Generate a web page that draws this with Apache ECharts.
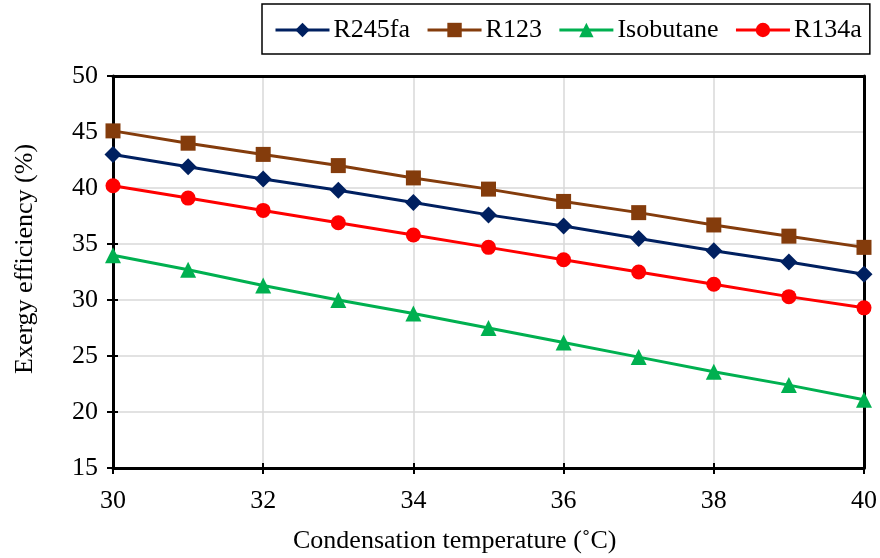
<!DOCTYPE html>
<html>
<head>
<meta charset="utf-8">
<script src="https://cdn.jsdelivr.net/npm/echarts@6/dist/echarts.min.js"></script>
<style>
  html, body { margin: 0; padding: 0; background: #fff; }
  #chart { width: 880px; height: 558px; }
</style>
</head>
<body>
<div id="chart"></div>
<script>
// Condensation temperature (°C)
const temperatures = [30, 31, 32, 33, 34, 35, 36, 37, 38, 39, 40];

// Exergy efficiency (%) for each working fluid
const r245fa    = [43.0, 41.9, 40.8, 39.8, 38.7, 37.6, 36.6, 35.5, 34.4, 33.4, 32.3];
const r123      = [45.1, 44.0, 43.0, 42.0, 40.9, 39.9, 38.8, 37.8, 36.7, 35.7, 34.7];
const isobutane = [34.0, 32.7, 31.3, 30.0, 28.8, 27.5, 26.2, 24.9, 23.6, 22.4, 21.1];
const r134a     = [40.2, 39.1, 38.0, 36.9, 35.8, 34.7, 33.6, 32.5, 31.4, 30.3, 29.3];

const FONT = '"Liberation Serif", "Times New Roman", serif';
const FS = 26;

const chart = echarts.init(document.getElementById('chart'));

function pairs(values) {
  return temperatures.map((t, i) => [t, values[i]]);
}

function lineSeries(name, values, color, symbol, size) {
  return {
    name: name,
    type: 'line',
    xAxisIndex: 0, yAxisIndex: 0,
    data: pairs(values),
    symbol: symbol,
    symbolSize: size,
    showSymbol: true,
    lineStyle: { color: color, width: 3 },
    itemStyle: { color: color },
    z: 5
  };
}

const blackLine = { show: true, lineStyle: { color: '#000', width: 3 } };
const noSplit = { show: false };
const innerTick = { show: true, inside: true, length: 5, lineStyle: { color: '#000', width: 2 } };

chart.setOption({
  animation: false,
  backgroundColor: '#fff',
  grid: { left: 113, right: 16, top: 76, bottom: 90 },
  legend: {
    left: 262, top: 4,
    padding: [13, 8, 11, 12],
    borderColor: '#000', borderWidth: 1.5,
    itemWidth: 54, itemHeight: 18, itemGap: 16,
    lineStyle: { width: 3 },
    textStyle: { fontFamily: FONT, fontSize: FS, color: '#000', padding: [0, 0, 0, -1] },
    data: ['R245fa', 'R123', 'Isobutane', 'R134a']
  },
  xAxis: [
    {
      type: 'value', min: 30, max: 40, interval: 2, position: 'bottom',
      axisLine: blackLine,
      axisTick: { show: true, length: 6, lineStyle: { color: '#000', width: 2 } },
      axisLabel: { color: '#000', fontFamily: FONT, fontSize: FS, margin: 20 },
      splitLine: { show: true, lineStyle: { color: '#d9d9d9', width: 1.5 } }
    },
    {
      // inward half of the crossing ticks on the bottom axis
      type: 'value', min: 30, max: 40, interval: 2, position: 'bottom',
      axisLine: { show: false }, axisLabel: { show: false }, splitLine: noSplit,
      axisTick: innerTick
    },
    {
      // top frame line
      type: 'value', min: 30, max: 40, position: 'top',
      axisLine: blackLine, axisTick: { show: false }, axisLabel: { show: false }, splitLine: noSplit
    }
  ],
  yAxis: [
    {
      type: 'value', min: 15, max: 50, interval: 5, position: 'left',
      axisLine: blackLine,
      axisTick: { show: true, length: 6, lineStyle: { color: '#000', width: 2 } },
      axisLabel: { color: '#000', fontFamily: FONT, fontSize: FS, margin: 15 },
      splitLine: { show: true, lineStyle: { color: '#d9d9d9', width: 1.5 } }
    },
    {
      // inward half of the crossing ticks on the left axis
      type: 'value', min: 15, max: 50, interval: 5, position: 'left',
      axisLine: { show: false }, axisLabel: { show: false }, splitLine: noSplit,
      axisTick: innerTick
    },
    {
      // right frame line
      type: 'value', min: 15, max: 50, position: 'right',
      axisLine: blackLine, axisTick: { show: false }, axisLabel: { show: false }, splitLine: noSplit
    }
  ],
  graphic: [
    {
      type: 'text', left: 293, top: 528,
      style: { text: 'Condensation temperature (˚C)', fontFamily: FONT, fontSize: FS, fill: '#000' }
    },
    {
      type: 'text', rotation: Math.PI / 2, x: 12, y: 374,
      style: { text: 'Exergy efficiency (%)', fontFamily: FONT, fontSize: FS, fill: '#000' }
    }
  ],
  series: [
    lineSeries('R245fa', r245fa, '#002060', 'diamond', 17),
    lineSeries('R123', r123, '#843C0C', 'rect', 15),
    lineSeries('Isobutane', isobutane, '#00B050', 'triangle', 16),
    lineSeries('R134a', r134a, '#FF0000', 'circle', 15)
  ]
});
</script>
</body>
</html>
